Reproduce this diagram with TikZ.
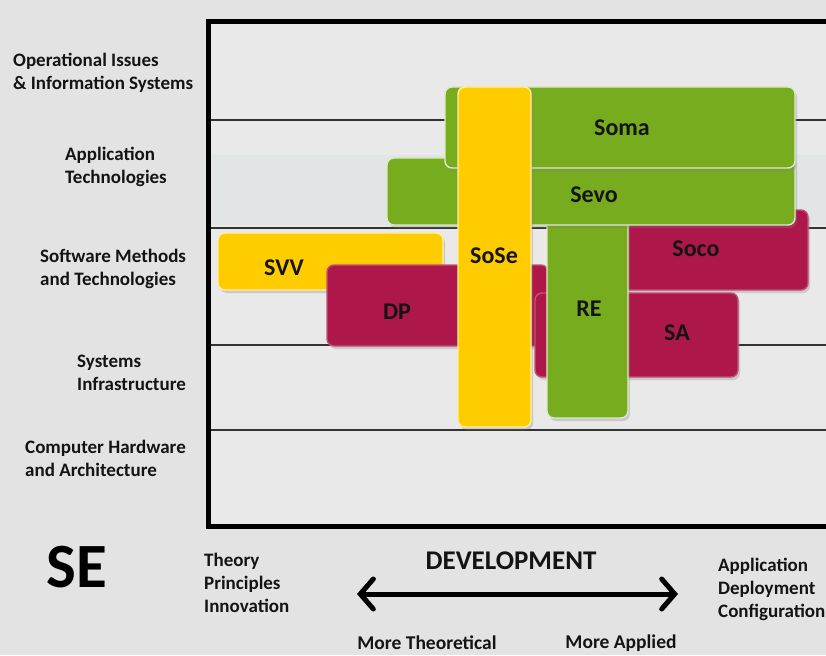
\documentclass[tikz,border=0pt]{standalone}
\usepackage{fontspec}
\setmainfont{Carlito}
\usetikzlibrary{arrows.meta,shadows}
\definecolor{bgout}{HTML}{E3E3E3}
\definecolor{bgin}{HTML}{E9E9E9}
\definecolor{bandc}{HTML}{E1E5E5}
\definecolor{sgreen}{HTML}{77AC1F}
\definecolor{syellow}{HTML}{FFCC00}
\definecolor{scrim}{HTML}{AE174A}
\definecolor{txt}{HTML}{141414}
\tikzset{
  box/.style={rectangle, rounded corners=7pt, inner sep=0pt, line width=1.4pt,
    drop shadow={shadow xshift=2pt, shadow yshift=-3pt, opacity=0.3}},
  gbox/.style={box, fill=sgreen, draw=sgreen!25!white},
  ybox/.style={box, fill=syellow, draw=syellow!35!white},
  cbox/.style={box, fill=scrim, draw=scrim!75!white},
  blabel/.style={font=\bfseries\fontsize{24}{26}\selectfont, text=txt, inner sep=0pt},
  rowlabel/.style={font=\bfseries\fontsize{19}{23}\selectfont, text=txt, align=left, anchor=west, inner sep=0pt},
  axlabel/.style={font=\bfseries\fontsize{19}{23}\selectfont, text=txt, align=left, anchor=west, inner sep=0pt},
  gridline/.style={line width=1.1pt, draw=black!80},
}
\begin{document}
\begin{tikzpicture}[x=1pt,y=-1pt]
\useasboundingbox (0,0) rectangle (826,655);
\clip (0,0) rectangle (826,655);
\fill[bgout] (0,0) rectangle (826,655);
% frame interior
\fill[bgin] (208,22) rectangle (840,526);
\fill[bandc] (211,155) rectangle (840,225);
% grid lines
\draw[gridline] (208,120) -- (840,120);
\draw[gridline] (208,228) -- (840,228);
\draw[gridline] (208,345) -- (840,345);
\draw[gridline] (208,430) -- (840,430);
% frame
\draw[line width=5pt] (840,22) -- (208,22) -- (208,526) -- (840,526);
% boxes (back to front)
\node[ybox, minimum width=225pt, minimum height=57pt] (svv) at (330.5,261.5) {};
\node[cbox, minimum width=221pt, minimum height=81pt] (dp) at (437.5,305.5) {};
\node[cbox, minimum width=248pt, minimum height=80pt] (soco) at (684,250) {};
\node[cbox, minimum width=203pt, minimum height=84pt] (sa) at (636.5,335) {};
\node[gbox, minimum width=81pt, minimum height=213pt] (re) at (587.5,311.5) {};
\node[gbox, minimum width=408pt, minimum height=67pt] (sevo) at (591,191.5) {};
\node[gbox, minimum width=350pt, minimum height=81pt] (soma) at (620,127.5) {};
\node[ybox, minimum width=73pt, minimum height=340pt] (sose) at (494.5,257) {};
% box labels
\node[blabel] (lsvv) at (284,268) {SVV};
\node[blabel] (ldp) at (397,312) {DP};
\node[blabel] (lsoco) at (696,249) {Soco};
\node[blabel] (lsa) at (677,333) {SA};
\node[blabel] (lre) at (589,309) {RE};
\node[blabel] (lsevo) at (594,195) {Sevo};
\node[blabel] (lsoma) at (622,128) {Soma};
\node[blabel] (lsose) at (494,256) {SoSe};
% row labels
\node[rowlabel] (r1) at (13,73) {Operational Issues\\\& Information Systems};
\node[rowlabel] (r2) at (65,167) {Application\\Technologies};
\node[rowlabel] (r3) at (40,269) {Software Methods\\and Technologies};
\node[rowlabel] (r4) at (77,373) {Systems\\Infrastructure};
\node[rowlabel] (r5) at (25,458) {Computer Hardware\\and Architecture};
% bottom
\node[font=\bfseries\fontsize{63}{65}\selectfont, text=black, inner sep=0pt] (se) at (77,567) {SE};
\node[axlabel] (theory) at (204,583) {Theory\\Principles\\Innovation};
\node[axlabel] (appl) at (718,589) {Application\\Deployment\\Configuration};
\node[font=\bfseries\fontsize{27}{29}\selectfont, text=txt, inner sep=0pt] (dev) at (511,561) {DEVELOPMENT};
\node[font=\bfseries\fontsize{19.5}{21}\selectfont, text=txt, inner sep=0pt] (mt) at (427,643) {More Theoretical};
\node[font=\bfseries\fontsize{19.5}{21}\selectfont, text=txt, inner sep=0pt] (ma) at (621,643) {More Applied};
\coordinate (al) at (357,594);
\coordinate (ar) at (678,594);
\draw[line width=5pt, {Straight Barb[length=13pt,width=30pt,line cap=round]}-{Straight Barb[length=13pt,width=30pt,line cap=round]}] (al) -- (ar);
\end{tikzpicture}
\end{document}
